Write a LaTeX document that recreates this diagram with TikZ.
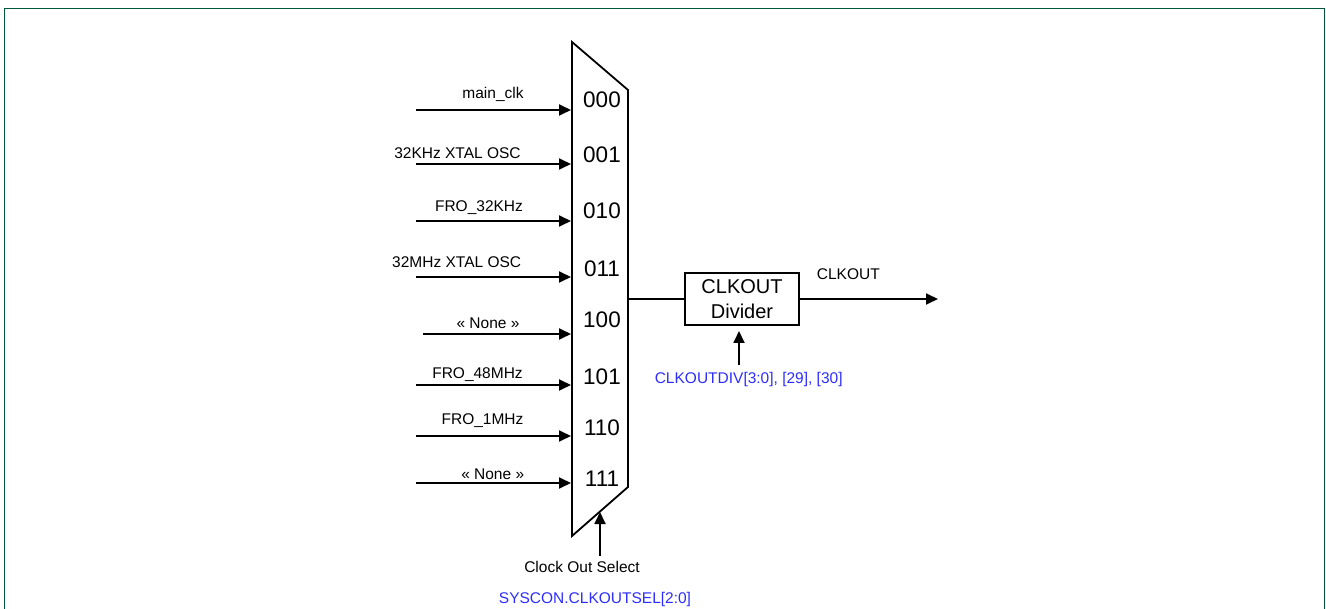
\documentclass[tikz,border=0pt]{standalone}
\usepackage{fontspec}
\setmainfont{Liberation Sans}
\usetikzlibrary{arrows.meta}
\definecolor{framegreen}{RGB}{0,88,60}
\definecolor{regblue}{RGB}{45,45,255}
\tikzset{
  wire/.style={line width=1.8pt, line cap=butt},
  arr/.style={wire, -{Triangle[length=12pt,width=11pt]}},
  small/.style={font=\fontsize{15.5}{18}\selectfont, inner sep=0pt, anchor=base},
  big/.style={font=\fontsize{22.5}{25}\selectfont, inner sep=0pt, anchor=base},
  reg/.style={small, text=regblue},
}
\begin{document}
\begin{tikzpicture}[x=1pt,y=-1pt]
\useasboundingbox (0,0) rectangle (1326,609);
% frame
\draw[framegreen, line width=1.8pt] (4.5,612) -- (4.5,8.5) -- (1324.5,8.5) -- (1324.5,612);
% mux
\coordinate (mtl) at (572,42);
\coordinate (mtr) at (628,90);
\coordinate (mbr) at (628,487);
\coordinate (mbl) at (572,536);
\draw[wire, line join=miter] (mtl) -- (mtr) -- (mbr) -- (mbl) -- cycle;
% inputs
\foreach \i/\y/\sx in {1/110/416,2/164/416,3/221/416,4/277/416,5/334/423,6/385/416,7/436/416,8/483/416}{
  \coordinate (in\i) at (\sx,\y);
  \coordinate (mi\i) at (571,\y);
  \draw[arr] (in\i) -- (mi\i);
}
\node[small] (l1) at (493,98.5) {main\_clk};
\node[small] (l2) at (457.5,158.3) {32KHz XTAL OSC};
\node[small] (l3) at (479,211.2) {FRO\_32KHz};
\node[small] (l4) at (456.7,267.8) {32MHz XTAL OSC};
\node[small] (l5) at (488,328.2) {« None »};
\node[small] (l6) at (477.5,378.2) {FRO\_48MHz};
\node[small] (l7) at (482.5,424.8) {FRO\_1MHz};
\node[small] (l8) at (492.7,479.8) {« None »};
% mux codes
\node[big] (c0) at (602,107.5) {000};
\node[big] (c1) at (602,162.5) {001};
\node[big] (c2) at (602,218.5) {010};
\node[big] (c3) at (602,277) {011};
\node[big] (c4) at (602,328) {100};
\node[big] (c5) at (602,384.5) {101};
\node[big] (c6) at (602,436) {110};
\node[big] (c7) at (602,486) {111};
% select
\coordinate (selbot) at (600,556);
\coordinate (seltip) at (600,512);
\draw[arr] (selbot) -- (seltip);
\node[small] (selt) at (582,572.2) {Clock Out Select};
\node[reg] (selr) at (595,603.2) {SYSCON.CLKOUTSEL[2:0]};
% divider
\node[draw, line width=1.8pt, minimum width=114pt, minimum height=52pt, inner sep=0pt,
  align=center, font=\fontsize{20}{25}\selectfont] (div) at (742,299) {CLKOUT\\Divider};
\coordinate (muxout) at (628,299);
\draw[wire] (muxout) -- (div.west);
\coordinate (outend) at (938,299);
\draw[arr] (div.east) -- (outend);
\node[small] (outl) at (848.3,279.8) {CLKOUT};
\coordinate (divbot) at (739,365);
\coordinate (divtip) at (739,331);
\draw[arr] (divbot) -- (divtip);
\node[reg] (divr) at (748.7,383.2) {CLKOUTDIV[3:0], [29], [30]};
\end{tikzpicture}
\end{document}
